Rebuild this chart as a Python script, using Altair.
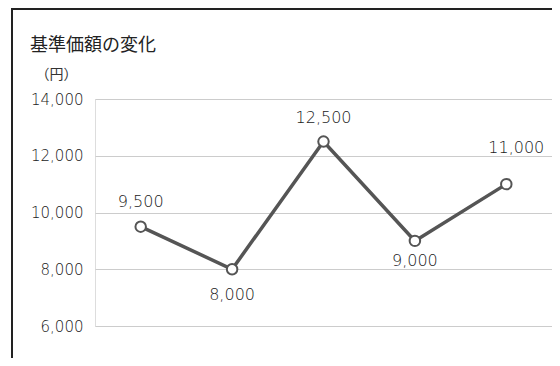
import altair as alt
import pandas as pd

categories = ["A", "B", "C", "D", "E"]
values = [9500, 8000, 12500, 9000, 11000]
tick_values = [6000, 8000, 10000, 12000, 14000]
title_text = "基準価額の変化"
unit_text = "（円）"

df = pd.DataFrame({"cat": categories, "val": values, "order": list(range(len(categories)))})

FONT = "Noto Sans CJK JP"
NUMFONT = "DejaVu Sans"
W, H = 457, 227
PAD = {"left": 87, "top": 91, "right": 0, "bottom": 32}

x_enc = alt.X("cat:N", sort=categories, axis=None,
              scale=alt.Scale(type="point", padding=0.5))
y_enc = alt.Y("val:Q",
              scale=alt.Scale(domain=[6000, 14000], nice=False, zero=False),
              axis=alt.Axis(values=tick_values, format=",.0f", grid=True, gridColor="#cccccc",
                            gridWidth=1, domain=False, ticks=False, tickSize=0,
                            labelPadding=12, labelFont=NUMFONT, labelFontSize=15,
                            labelFontWeight=300,
                            labelColor="#1a1a1a", title=unit_text, titleAngle=0,
                            titleFont=FONT, titleFontSize=14, titleFontWeight="normal",
                            titleColor="#333333", titleX=-39, titleY=-25,
                            titleAlign="center", titleBaseline="middle"))

base = alt.Chart(df)

line = base.mark_line(color="#555555", strokeWidth=3.5).encode(x=x_enc, y=y_enc, order="order:Q")
points = base.mark_point(shape="circle", filled=True, fill="white", stroke="#555555",
                         strokeWidth=2, size=110, opacity=1).encode(x=x_enc, y=y_enc)

label_style = {
    "A": dict(dy=-25, dx=0),
    "B": dict(dy=26, dx=0),
    "C": dict(dy=-24, dx=0),
    "D": dict(dy=20, dx=0),
    "E": dict(dy=-36, dx=10),
}
labels = []
for c in categories:
    st = label_style[c]
    labels.append(
        base.transform_filter(alt.datum.cat == c)
        .mark_text(font=NUMFONT, fontSize=16, fontWeight=300, color="#1a1a1a",
                   baseline="middle", align="center", dx=st["dx"], dy=st["dy"])
        .encode(x=x_enc, y=y_enc, text=alt.Text("val:Q", format=",.0f"))
    )

title_mark = alt.Chart(pd.DataFrame({"t": [title_text]})).mark_text(
    font=FONT, fontSize=18, color="#222222", align="left", baseline="alphabetic"
).encode(x=alt.value(-65), y=alt.value(-48), text="t:N")

frame_left = alt.Chart(df).mark_rule(color="#222222", strokeWidth=2).encode(
    x=alt.value(-PAD["left"] + 4), y=alt.value(-PAD["top"]), y2=alt.value(H + PAD["bottom"]))
frame_top = alt.Chart(df).mark_rule(color="#222222", strokeWidth=2).encode(
    x=alt.value(-PAD["left"] + 3), x2=alt.value(W + PAD["right"]), y=alt.value(-PAD["top"] + 1))

chart = alt.layer(frame_left, frame_top, title_mark, line, points, *labels).properties(
    width=W, height=H,
    padding=PAD,
    autosize=alt.AutoSizeParams(type="none"),
).configure_view(stroke=None).configure(background="white")

chart.save("out.html", embed_options={"renderer": "svg", "actions": False})
